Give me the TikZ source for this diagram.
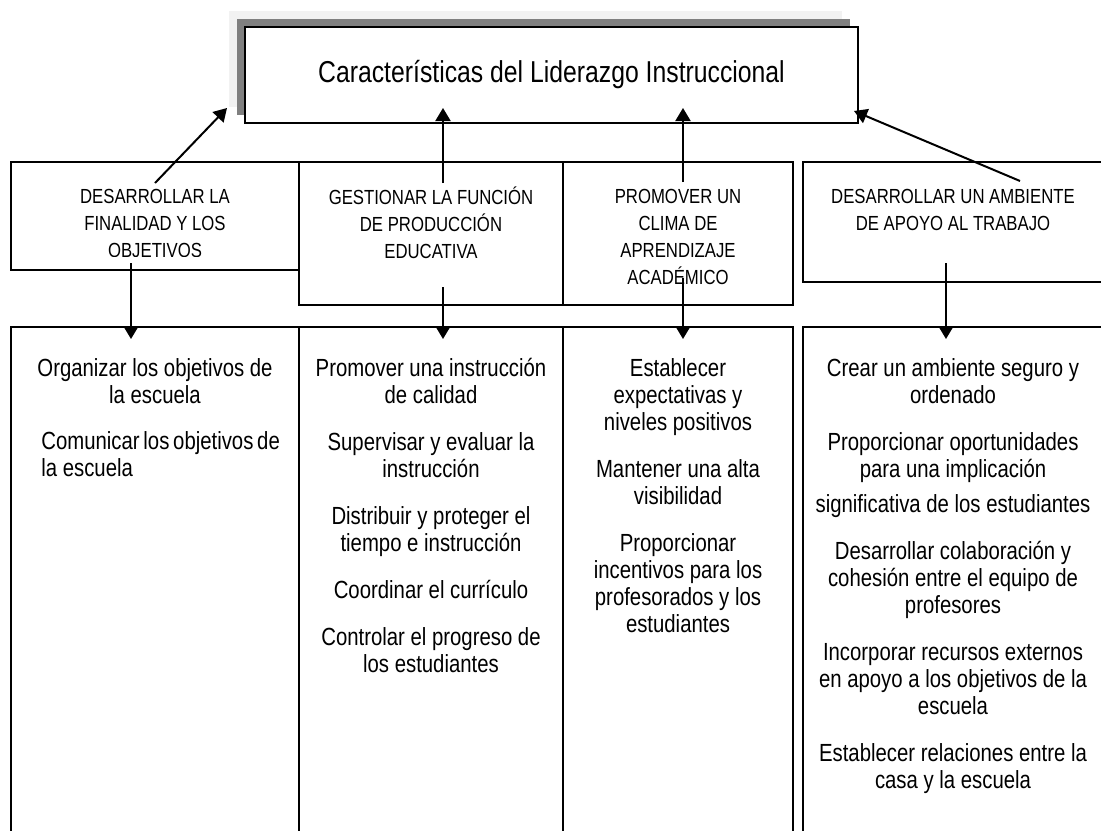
\documentclass[tikz,border=0pt]{standalone}
\usepackage{fontspec}
\setmainfont{Liberation Sans}[FakeStretch=0.82]
\usetikzlibrary{arrows.meta}

\tikzset{
    box/.style = {draw, line width=1pt, anchor=north west, inner sep=0pt, outer sep=0pt},
    head/.style = {align=center, inner sep=0pt, anchor=north, execute at begin node=\strut,
                   font=\fontsize{10.2pt}{13.5pt}\selectfont},
    body/.style = {align=center, inner sep=0pt, anchor=north, execute at begin node=\strut,
                   font=\fontsize{12.4pt}{13.5pt}\selectfont},
    link/.style = {line width=1pt, -{Triangle[length=6.5pt, width=7.5pt]}},
}

\begin{document}
\begin{tikzpicture}[x=0.5pt, y=-0.5pt]
        \def\gap{10pt}
        \useasboundingbox (0,0) rectangle (1101,830);

        % SHADOWS
        \fill[gray!10] (229,11) rectangle (842,107);
        \fill[black!50] (237,19) rectangle (850,115);

        % TITLE
        \node[box, fill=white, minimum width=306.5pt, minimum height=48pt,
              font=\fontsize{15.1pt}{16pt}\selectfont] (title) at (245,27)
            {\raisebox{-1.5pt}{Características del Liderazgo Instruccional}};

        % HEADER BOXES
        \node[box, minimum width=144pt,   minimum height=54pt]   (hA) at (11,162)  {};
        \node[box, minimum width=132pt,   minimum height=71.5pt] (hB) at (299,162) {};
        \node[box, minimum width=115pt,   minimum height=71.5pt] (hC) at (563,162) {};
        \node[box, minimum width=150.5pt, minimum height=60pt]   (hD) at (803,162) {};

        % BODY BOXES
        \foreach \name/\x/\w in {bA/11/144, bB/299/132, bC/563/115, bD/803/150.5} {
            \node[box, minimum width=\w pt, minimum height=256.5pt] (\name) at (\x,327) {};
        }

        % HEADER TEXTS
        \begin{scope}
            \clip (11,162) rectangle (299,256);
            \node[head] (tA) at (155,189) {DESARROLLAR LA\\FINALIDAD Y LOS\\OBJETIVOS};
        \end{scope}
        \node[head] (tB) at (431,186) {GESTIONAR LA FUNCIÓN\\DE PRODUCCIÓN\\EDUCATIVA};
        \node[head] (tC) at (678,189) {PROMOVER UN\\CLIMA DE\\APRENDIZAJE\\ACADÉMICO};
        \node[head] (tD) at (953,189) {DESARROLLAR UN AMBIENTE\\DE APOYO AL TRABAJO};

        % BODY TEXTS
        \node[body] (lA1) at (155,358) {Organizar los objetivos de\\la escuela};
        \node[body, align=left, anchor=north west] (lA2) at (41,431)
            {\makebox[118.5pt][s]{Comunicar los objetivos de}\\la escuela};
        \node[body] (lB) at (431,358) {Promover una instrucción\\de calidad\\[\gap]
            Supervisar y evaluar la\\instrucción\\[\gap]
            Distribuir y proteger el\\tiempo e instrucción\\[\gap]
            Coordinar el currículo\\[\gap]
            Controlar el progreso de\\los estudiantes};
        \node[body] (lC) at (678,358) {Establecer\\expectativas y\\niveles positivos\\[\gap]
            Mantener una alta\\visibilidad\\[\gap]
            Proporcionar\\incentivos para los\\profesorados y los\\estudiantes};
        \node[body] (lD) at (953,358) {Crear un ambiente seguro y\\ordenado\\[\gap]
            Proporcionar oportunidades\\para una implicación\\[4pt]significativa de los estudiantes\\[\gap]
            Desarrollar colaboración y\\cohesión entre el equipo de\\profesores\\[\gap]
            Incorporar recursos externos\\en apoyo a los objetivos de la\\escuela\\[\gap]
            Establecer relaciones entre la\\casa y la escuela};

        % ARROWS
        \coordinate (upA) at (155,183);  \coordinate (tipA) at (227,108);
        \coordinate (upB) at (443,183);  \coordinate (tipB) at (443,108);
        \coordinate (upC) at (683,182);  \coordinate (tipC) at (683,108);
        \coordinate (upD) at (1020,181); \coordinate (tipD) at (854,111);
        \coordinate (dnA) at (131,263);  \coordinate (endA) at (131,339);
        \coordinate (dnB) at (443,287);  \coordinate (endB) at (443,339);
        \coordinate (dnC) at (683,278);  \coordinate (endC) at (683,339);
        \coordinate (dnD) at (946,263);  \coordinate (endD) at (946,339);
        \foreach \s/\e in {upA/tipA, upB/tipB, upC/tipC, upD/tipD, dnA/endA, dnB/endB, dnC/endC, dnD/endD} {
            \draw[link] (\s) -- (\e);
        }
\end{tikzpicture}
\end{document}
